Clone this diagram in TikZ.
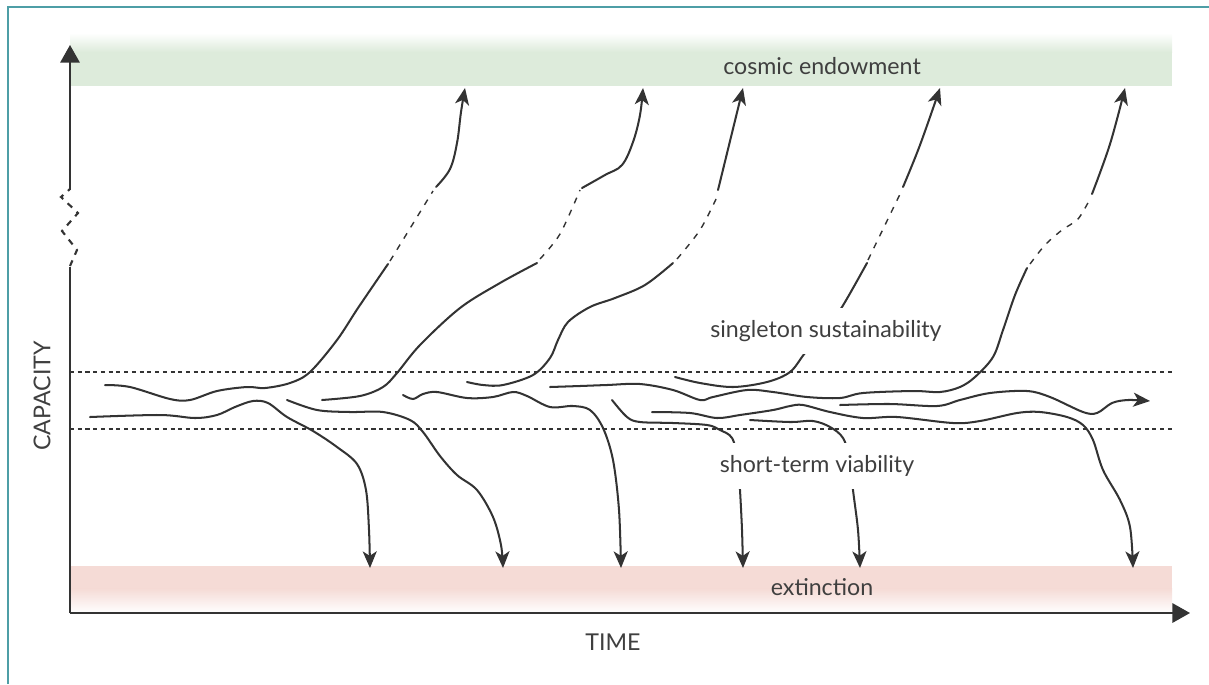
\documentclass[tikz,border=0pt]{standalone}
\usepackage{fontspec}
\setmainfont{Lato}
\usepackage{xcolor}
\usepackage{tikz}
\usetikzlibrary{arrows.meta,positioning}

\definecolor{framecol}{HTML}{4E9EA6}
\definecolor{cosmicgreen}{HTML}{DDEBDB}
\definecolor{extinctred}{HTML}{F5DBD6}
\definecolor{inkgray}{HTML}{333333}
\definecolor{textgray}{HTML}{3F3F3F}

\begin{document}
\begin{tikzpicture}[
    x=0.02cm, y=-0.02cm,
    % Axis and band styles
    axis/.style={draw=inkgray, line width=1.1pt, -{Triangle[length=10pt, width=11pt]}},
    axisbreak/.style={draw=inkgray, line width=1.2pt, dash pattern=on 3.5pt off 3.5pt},
    level/.style={draw=inkgray, line width=0.9pt, dash pattern=on 2.3pt off 2.1pt},
    % Trajectory styles
    strand/.style={draw=inkgray, line width=1.15pt, line cap=round},
    path/.style={strand, -{Stealth[length=9.5pt, width=8pt, inset=2.6pt]}},
    faded/.style={draw=inkgray, line width=0.8pt, dash pattern=on 3.5pt off 4pt},
    % Label styles
    bandlabel/.style={font=\fontsize{13.2}{15}\selectfont, text=textgray},
    zonelabel/.style={bandlabel, fill=white, inner xsep=4pt, inner ysep=7pt}
]
    \useasboundingbox (0,0) rectangle (1209,684);

    % Frame
    \draw[framecol, line width=1.2pt] (8,684) -- (8,7) -- (1209,7);

    % Bands
    \shade[top color=white, bottom color=cosmicgreen] (70,33) rectangle (1172,52);
    \fill[cosmicgreen] (70,51.5) rectangle (1172,86);
    \fill[extinctred] (70,566) rectangle (1172,589);
    \shade[top color=extinctred, bottom color=white] (70,588.5) rectangle (1172,613);

    % Axes
    \coordinate (origin) at (70,613);
    \coordinate (ytop) at (70,45);
    \coordinate (xend) at (1190,613);
    \draw[draw=inkgray, line width=1.1pt] (origin) -- (70,267);
    \draw[axisbreak] (70,266) -- (77,250) -- (62,231) -- (78,213) -- (61,197) -- (70,189);
    \draw[axis] (70,190) -- (ytop);
    \draw[axis] (origin) -- (xend);

    % Viability levels
    \draw[level] (70,372) -- (1172,372);
    \draw[level] (70,429) -- (1172,429);

    % Trajectories reaching the cosmic endowment
    \draw[strand] plot[smooth, tension=0.55] coordinates {(105,385) (130,387) (170,399) (190,400) (217,391) (247,387) (265,388) (290,383) (310,372) (337,340) (358,308) (388,264)};
    \draw[faded] (390,261) -- (433,191);
    \draw[path] plot[smooth, tension=0.6] coordinates {(436,187) (450,169) (457,143) (461,112) (465,88)};

    \draw[strand] plot[smooth, tension=0.55] coordinates {(322,400) (360,396) (383,387) (397,373) (420,345) (460,308) (500,283) (537,263)};
    \draw[faded] plot[smooth] coordinates {(540,259) (560,234) (580,190)};
    \draw[path] plot[smooth, tension=0.6] coordinates {(582,188) (605,175) (622,165) (633,142) (640,115) (643,88)};

    \draw[strand] plot[smooth, tension=0.55] coordinates {(467,382) (483,385) (503,385) (533,375) (550,358) (558,340) (568,322) (590,307) (615,298) (645,285) (673,263)};
    \draw[faded] plot[smooth] coordinates {(677,259) (700,230) (717,197)};
    \draw[path] (718,190) -- (743,88);

    \draw[strand] plot[smooth, tension=0.55] coordinates {(675,377) (700,383) (733,387) (767,382) (790,372) (805,353) (825,330) (842,307) (867,263)};
    \draw[faded] (868,260) -- (902,190);
    \draw[path] plot[smooth, tension=0.6] coordinates {(903,187) (920,145) (940,88)};

    \draw[strand] plot[smooth, tension=0.55] coordinates {(550,387) (580,386) (607,385) (640,384) (673,390) (700,400) (713,397) (747,390) (773,392) (807,397) (840,398) (863,393) (913,391) (940,392) (960,387) (975,377) (993,357) (1003,330) (1015,295) (1027,268)};
    \draw[faded] plot[smooth] coordinates {(1030,264) (1045,245) (1062,230) (1078,219) (1090,199)};
    \draw[path] plot[smooth, tension=0.6] coordinates {(1092,194) (1110,144) (1125,88)};

    % Trajectory staying sustainable
    \draw[path] plot[smooth, tension=0.55] coordinates {(840,405) (890,404) (937,406) (960,400) (990,393) (1027,391) (1050,397) (1083,412) (1097,413) (1112,403) (1128,400) (1150,401)};

    % Trajectories ending in extinction
    \draw[path] plot[smooth, tension=0.55] coordinates {(90,417) (160,415) (195,418) (217,415) (235,407) (253,401) (268,403) (287,417) (313,431) (337,447) (357,464) (366,490) (369,530) (370,568)};
    \draw[path] plot[smooth, tension=0.55] coordinates {(287,400) (317,410) (350,412) (383,412) (410,420) (423,432) (440,456) (457,475) (477,490) (493,517) (501,545) (503,568)};
    \draw[path] plot[smooth, tension=0.55] coordinates {(403,395) (413,399) (423,394) (437,392) (467,398) (493,397) (513,392) (527,396) (550,407) (573,406) (590,410) (603,428) (613,460) (619,510) (621,568)};
    \draw[path] plot[smooth, tension=0.55] coordinates {(612,400) (627,417) (640,422) (673,423) (707,425) (720,430) (732,438) (738,460) (740,490) (742,530) (743,568)};
    \draw[path] plot[smooth, tension=0.55] coordinates {(750,420) (790,422) (813,421) (830,427) (843,438) (850,460) (853,490) (858,530) (860,568)};
    \draw[path] plot[smooth, tension=0.55] coordinates {(652,412) (690,413) (717,418) (740,415) (773,410) (790,406) (803,405) (830,412) (863,418) (897,417) (953,423) (980,421) (1017,413) (1040,412) (1067,417) (1083,425) (1093,440) (1103,470) (1120,500) (1130,527) (1133,568)};

    % Labels
    \node[bandlabel] (cosmic) at (822,66) {cosmic endowment};
    \node[zonelabel] (singleton) at (826,331) {singleton sustainability};
    \node[zonelabel] (shortterm) at (817,466) {short-term viability};
    \node[bandlabel] (extinct) at (822,587) {extinction};
    \node[bandlabel] (time) at (613,642) {TIME};
    \node[bandlabel, rotate=90] (capacity) at (42,396) {CAPACITY};
\end{tikzpicture}
\end{document}
